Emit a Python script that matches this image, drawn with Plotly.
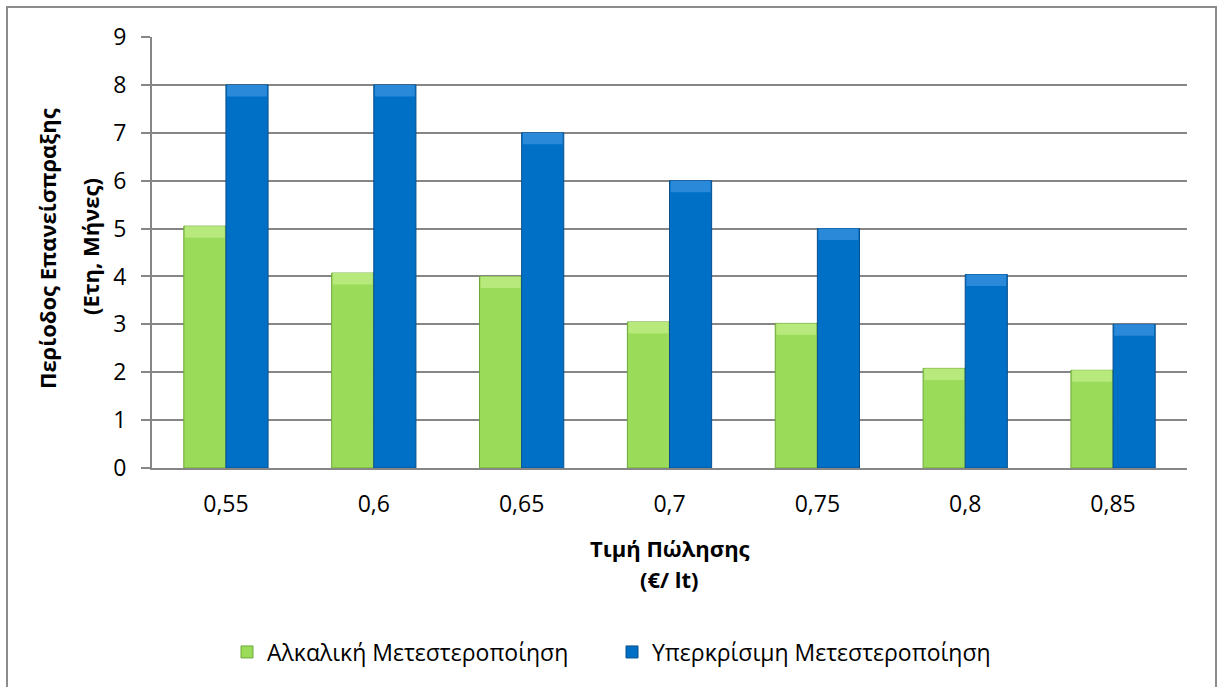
import plotly.graph_objects as go

# Selling price per litre (category labels) and payback period per process
prices = ["0,55", "0,6", "0,65", "0,7", "0,75", "0,8", "0,85"]
alkaline = [5.05, 4.07, 4.0, 3.05, 3.02, 2.08, 2.04]
supercritical = [8, 8, 7, 6, 5, 4.04, 3]
y_ticks = [0, 1, 2, 3, 4, 5, 6, 7, 8, 9]

FONT = "Open Sans"
GRID = "#868686"
BAR_W = 0.285      # width of one bar, in category units
CAP = 0.24         # height of the lighter bevel band on each bar top
INSET = 0.008      # keeps the band inside the bar outline

series = [
    ("Αλκαλική Μετεστεροποίηση", alkaline, -BAR_W, "#9BDB5A", "#6FA83A", "#B8E97C"),
    ("Υπερκρίσιμη Μετεστεροποίηση", supercritical, 0.0, "#0070C6", "#0A4F8C", "#2B89DA"),
]

fig = go.Figure()
for name, vals, off, body, edge, cap in series:
    fig.add_trace(go.Bar(
        x=prices, y=vals, name=name, width=BAR_W, offset=off,
        marker=dict(color=body, line=dict(color=edge, width=1)),
    ))
    # lighter bevel band along the top of each bar
    fig.add_trace(go.Bar(
        x=prices, y=[CAP] * len(vals), base=[v - CAP for v in vals],
        width=BAR_W - 2 * INSET, offset=off + INSET, showlegend=False, hoverinfo="skip",
        marker=dict(color=cap, line=dict(width=0)),
    ))

fig.update_layout(
    width=1217, height=687,
    margin=dict(l=152, r=30, t=37, b=219),
    paper_bgcolor="white", plot_bgcolor="white",
    barmode="overlay",
    font=dict(family=FONT, size=23, color="black"),
    showlegend=True,
    legend=dict(orientation="h", x=(612 - 152) / 1035, xanchor="center",
                y=(468 - 652) / 431, yanchor="middle",
                font=dict(family=FONT, size=23), itemwidth=30, traceorder="normal",
                entrywidth=340, entrywidthmode="pixels"),
    xaxis=dict(showgrid=False, showline=True, linecolor=GRID, linewidth=2,
               ticks="", tickfont=dict(size=23), ticklabelstandoff=14),
    yaxis=dict(range=[0, 9], tickvals=y_ticks, showgrid=True, gridcolor=GRID, gridwidth=2,
               showline=True, linecolor=GRID, linewidth=2, ticks="outside", ticklen=9,
               tickcolor=GRID, tickwidth=2, tickfont=dict(size=23), zeroline=False,
               ticklabelstandoff=10),
)

# Axis titles
fig.add_annotation(text="<b>Τιμή Πώλησης</b>", xref="paper", yref="paper",
                   x=0.5, y=(468 - 548) / 431, xanchor="center", yanchor="middle",
                   showarrow=False, font=dict(size=22))
fig.add_annotation(text="<b>(€/ lt)</b>", xref="paper", yref="paper",
                   x=0.5, y=(468 - 579) / 431, xanchor="center", yanchor="middle",
                   showarrow=False, font=dict(size=22))
fig.add_annotation(text="<b>Περίοδος Επανείσπραξης</b>", xref="paper", yref="paper",
                   x=(47 - 152) / 1035, y=(468 - 249) / 431, xanchor="center", yanchor="middle",
                   textangle=-90, showarrow=False, font=dict(size=22))
fig.add_annotation(text="<b>(Ετη, Μήνες)</b>", xref="paper", yref="paper",
                   x=(90 - 152) / 1035, y=(468 - 247) / 431, xanchor="center", yanchor="middle",
                   textangle=-90, showarrow=False, font=dict(size=22))

# Chart frame
fig.add_shape(type="rect", xref="paper", yref="paper",
              x0=(7 - 152) / 1035, x1=(1216 - 152) / 1035,
              y0=(468 - 700) / 431, y1=(468 - 7) / 431,
              line=dict(color="#8C8C8C", width=2), layer="below")

fig.write_html("out.html")
